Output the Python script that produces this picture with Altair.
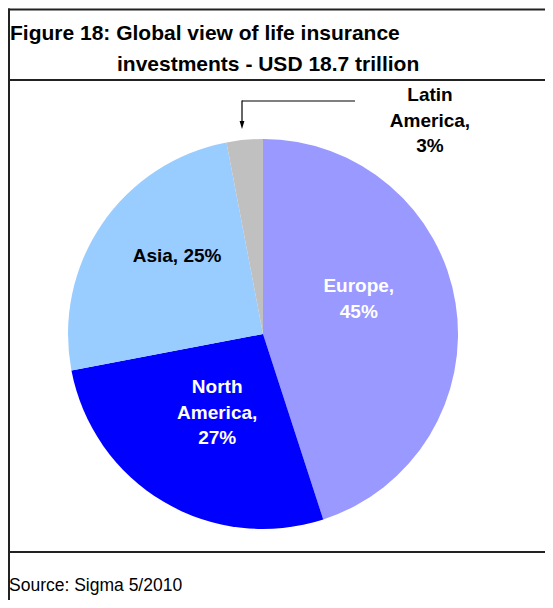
import altair as alt
import pandas as pd

# ---- data ----
regions = ["Europe", "North America", "Asia", "Latin America"]
shares = [45, 27, 25, 3]
labels = [["Europe,", "45%"], ["North", "America,", "27%"], ["Asia, 25%"], ["Latin", "America,", "3%"]]
colors = ["#9999FF", "#0000FF", "#99CCFF", "#C0C0C0"]
title_lines = ["Figure 18: Global view of life insurance", "investments - USD 18.7 trillion"]
source_text = ["Source: Sigma 5/2010"]

df = pd.DataFrame({"region": regions, "share": shares, "order": list(range(len(regions))), "label": labels})

W, H = 537, 592
CX, CY, R = 255, 326, 195
FONT = "Liberation Sans"

theta_scale = alt.Scale(domain=[0, 100])

base = alt.Chart(df)

pie = base.mark_arc(outerRadius=R, x=CX, y=CY, strokeWidth=0).encode(
    theta=alt.Theta("share:Q", stack=True, scale=theta_scale),
    color=alt.Color("region:N", scale=alt.Scale(domain=regions, range=colors), legend=None),
    order=alt.Order("order:Q"),
)

stacked = base.transform_stack(
    stack="share", groupby=[], as_=["s0", "s1"], sort=[alt.SortField("order")]
).transform_calculate(mid="(datum.s0 + datum.s1) / 2")


def slice_label(region, radius, dx, dy, color):
    return stacked.transform_filter(alt.datum.region == region).mark_text(
        x=CX, y=CY, radius=radius, dx=dx, dy=dy, font=FONT, fontSize=19, fontWeight="bold",
        color=color, lineHeight=25.5, align="center", baseline="middle",
    ).encode(
        theta=alt.Theta("mid:Q", stack=None, scale=theta_scale),
        text="label",
    )


lab_eu = slice_label("Europe", 100, -3, -32, "white")
lab_na = slice_label("North America", 90, 0, -24, "white")
lab_as = slice_label("Asia", 116, 10, -13, "black")

lab_la = base.transform_filter(alt.datum.region == "Latin America").mark_text(
    font=FONT, fontSize=19, fontWeight="bold", color="black", lineHeight=25.5,
    align="center", baseline="middle",
).encode(x=alt.value(422), y=alt.value(87), text="label")

# leader arrow for Latin America
one = pd.DataFrame({"a": [0]})
arrow_h = alt.Chart(one).mark_rect(color="black").encode(
    x=alt.value(234), x2=alt.value(347), y=alt.value(92.4), y2=alt.value(93.6))
arrow_v = alt.Chart(one).mark_rect(color="black").encode(
    x=alt.value(233.4), x2=alt.value(234.6), y=alt.value(92.4), y2=alt.value(115))
arrow_head = alt.Chart(one).mark_point(
    shape="M-0.6,-1L0.6,-1L0,1Z", filled=True, color="black", size=64, opacity=1, strokeWidth=0
).encode(x=alt.value(234), y=alt.value(117))

# frame lines drawn as thin filled rectangles
def hband(y):
    return alt.Chart(one).mark_rect(color="#222222").encode(
        x=alt.value(0), x2=alt.value(W), y=alt.value(y - 1), y2=alt.value(y + 1))

top_line = hband(1.5)
mid_line = hband(72)
bot_line = hband(544)
left_line = alt.Chart(one).mark_rect(color="#222222").encode(
    x=alt.value(0), x2=alt.value(2), y=alt.value(0.5), y2=alt.value(H))

t1 = alt.Chart(pd.DataFrame({"t": [title_lines[0]]})).mark_text(
    font=FONT, fontSize=21, fontWeight="bold", align="left", baseline="middle", color="black"
).encode(x=alt.value(2), y=alt.value(26), text="t")
t2 = alt.Chart(pd.DataFrame({"t": [title_lines[1]]})).mark_text(
    font=FONT, fontSize=21, fontWeight="bold", align="left", baseline="middle", color="black"
).encode(x=alt.value(109), y=alt.value(57), text="t")
src = alt.Chart(pd.DataFrame({"t": source_text})).mark_text(
    font=FONT, fontSize=17.5, align="left", baseline="middle", color="black"
).encode(x=alt.value(1), y=alt.value(578), text="t")

chart = alt.layer(
    pie, lab_eu, lab_na, lab_as, lab_la, arrow_h, arrow_v, arrow_head,
    top_line, mid_line, bot_line, left_line, t1, t2, src,
).properties(
    width=W, height=H, padding=0, autosize=alt.AutoSizeParams(type="none"), background="white"
).configure_view(strokeWidth=0, strokeOpacity=0)

chart.save("out.html", embed_options={"renderer": "svg", "actions": False})
